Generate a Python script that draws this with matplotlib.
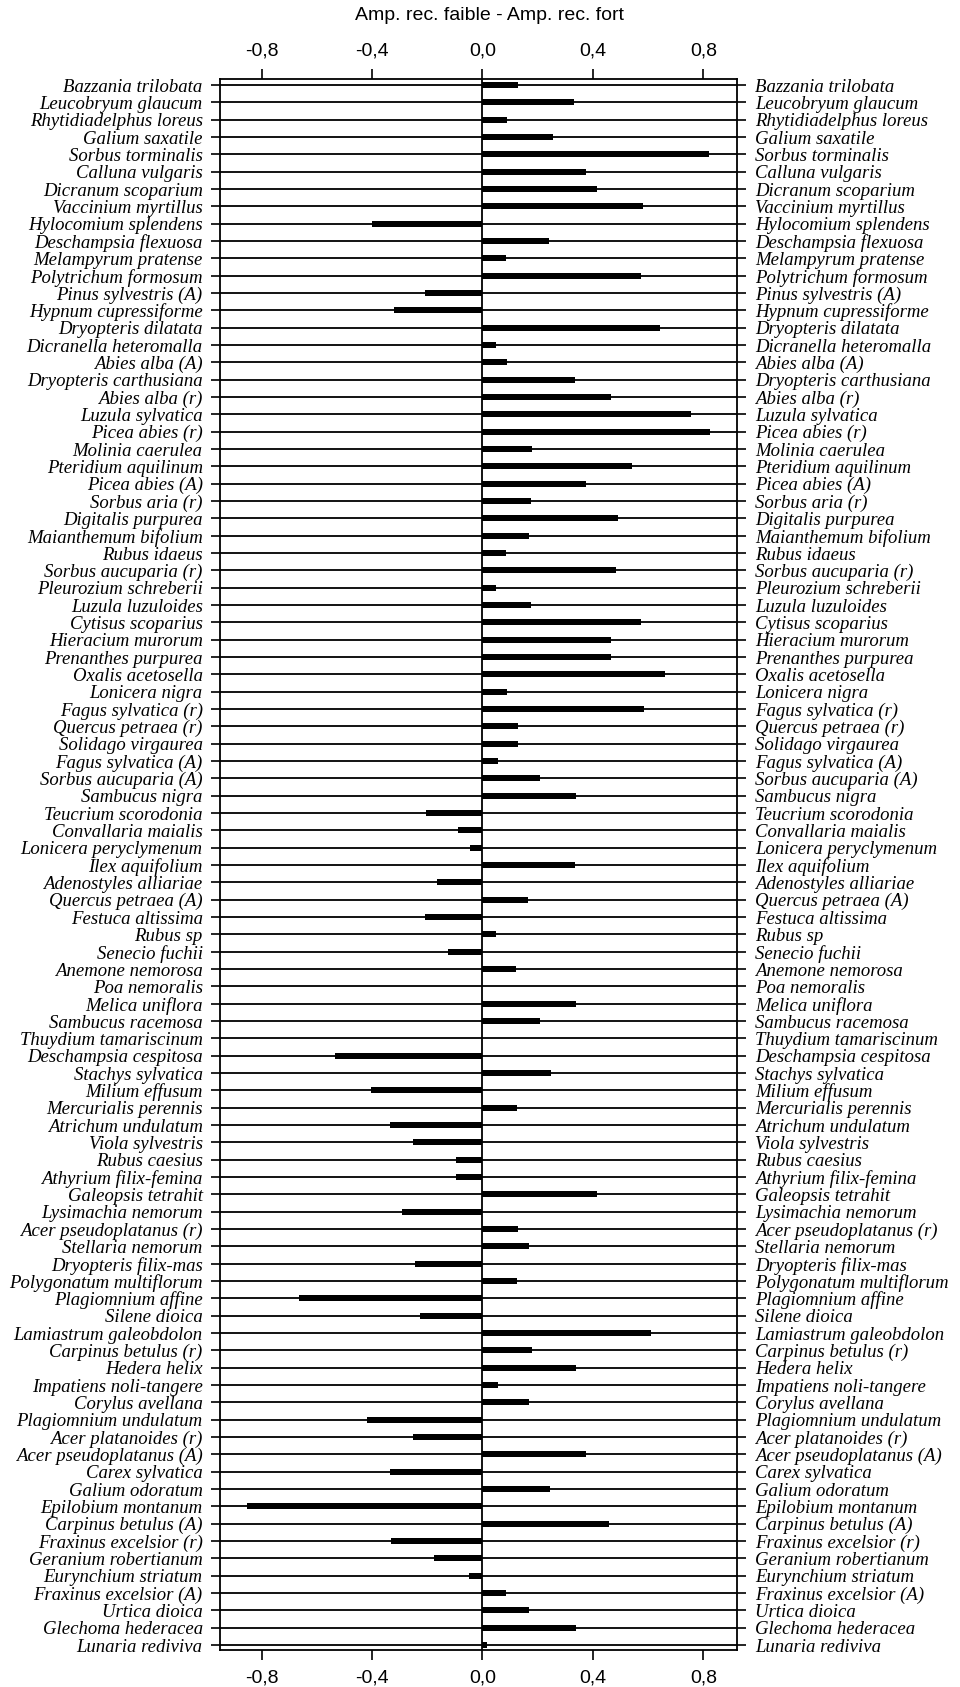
import matplotlib
matplotlib.use("Agg")
import matplotlib.pyplot as plt

# species, top to bottom
species = [
    "Bazzania trilobata", "Leucobryum glaucum", "Rhytidiadelphus loreus",
    "Galium saxatile", "Sorbus torminalis", "Calluna vulgaris",
    "Dicranum scoparium", "Vaccinium myrtillus", "Hylocomium splendens",
    "Deschampsia flexuosa", "Melampyrum pratense", "Polytrichum formosum",
    "Pinus sylvestris (A)", "Hypnum cupressiforme", "Dryopteris dilatata",
    "Dicranella heteromalla", "Abies alba (A)", "Dryopteris carthusiana",
    "Abies alba (r)", "Luzula sylvatica", "Picea abies (r)",
    "Molinia caerulea", "Pteridium aquilinum", "Picea abies (A)",
    "Sorbus aria (r)", "Digitalis purpurea", "Maianthemum bifolium",
    "Rubus idaeus", "Sorbus aucuparia (r)", "Pleurozium schreberii",
    "Luzula luzuloides", "Cytisus scoparius", "Hieracium murorum",
    "Prenanthes purpurea", "Oxalis acetosella", "Lonicera nigra",
    "Fagus sylvatica (r)", "Quercus petraea (r)", "Solidago virgaurea",
    "Fagus sylvatica (A)", "Sorbus aucuparia (A)", "Sambucus nigra",
    "Teucrium scorodonia", "Convallaria maialis", "Lonicera peryclymenum",
    "Ilex aquifolium", "Adenostyles alliariae", "Quercus petraea (A)",
    "Festuca altissima", "Rubus sp", "Senecio fuchii",
    "Anemone nemorosa", "Poa nemoralis", "Melica uniflora",
    "Sambucus racemosa", "Thuydium tamariscinum", "Deschampsia cespitosa",
    "Stachys sylvatica", "Milium effusum", "Mercurialis perennis",
    "Atrichum undulatum", "Viola sylvestris", "Rubus caesius",
    "Athyrium filix-femina", "Galeopsis tetrahit", "Lysimachia nemorum",
    "Acer pseudoplatanus (r)", "Stellaria nemorum", "Dryopteris filix-mas",
    "Polygonatum multiflorum", "Plagiomnium affine", "Silene dioica",
    "Lamiastrum galeobdolon", "Carpinus betulus (r)", "Hedera helix",
    "Impatiens noli-tangere", "Corylus avellana", "Plagiomnium undulatum",
    "Acer platanoides (r)", "Acer pseudoplatanus (A)", "Carex sylvatica",
    "Galium odoratum", "Epilobium montanum", "Carpinus betulus (A)",
    "Fraxinus excelsior (r)", "Geranium robertianum", "Eurynchium striatum",
    "Fraxinus excelsior (A)", "Urtica dioica", "Glechoma hederacea",
    "Lunaria rediviva",
]

# Amp. rec. faible - Amp. rec. fort
diff = [
    0.13, 0.33, 0.09, 0.255, 0.82, 0.375, 0.415, 0.58, -0.40, 0.24,
    0.085, 0.575, -0.21, -0.32, 0.645, 0.05, 0.09, 0.335, 0.465, 0.755,
    0.825, 0.18, 0.54, 0.375, 0.175, 0.49, 0.17, 0.085, 0.485, 0.05,
    0.175, 0.575, 0.465, 0.465, 0.66, 0.09, 0.585, 0.13, 0.13, 0.055,
    0.21, 0.34, -0.205, -0.09, -0.045, 0.335, -0.165, 0.165, -0.21, 0.05,
    -0.125, 0.12, 0.0, 0.34, 0.21, 0.0, -0.535, 0.25, -0.405, 0.125,
    -0.335, -0.25, -0.095, -0.095, 0.415, -0.29, 0.13, 0.17, -0.245, 0.125,
    -0.665, -0.225, 0.61, 0.18, 0.34, 0.055, 0.17, -0.42, -0.25, 0.375,
    -0.335, 0.245, -0.855, 0.46, -0.33, -0.175, -0.05, 0.085, 0.17, 0.34,
    0.015,
]

xticks = [-0.8, -0.4, 0.0, 0.4, 0.8]
xtick_labels = ["-0,8", "-0,4", "0,0", "0,4", "0,8"]

serif = ["Liberation Serif", "DejaVu Serif"]
sans = ["Liberation Sans", "DejaVu Sans"]

fig = plt.figure(figsize=(9.6, 16.87), dpi=100)
ax = fig.add_axes([0.2292, 0.0219, 0.539, 0.9313])

ypos = list(range(len(species)))
ax.barh(ypos, diff, height=0.34, color="black", zorder=3)
ax.axvline(0, color="black", lw=1.3, zorder=2)

ax.set_xlim(-0.951, 0.924)
ax.set_ylim(len(species) - 1 + 0.29, -0.35)

ax.set_yticks(ypos)
ax.set_yticklabels(species, fontsize=13.5, style="italic", family=serif)
ax.yaxis.set_ticks_position("both")
ax.tick_params(axis="y", which="both", direction="out", length=6.5,
               width=1.2, pad=6, labelleft=True, labelright=True)
ax.grid(axis="y", color="black", lw=1.3, zorder=1)

ax.set_xticks(xticks)
ax.set_xticklabels(xtick_labels, fontsize=14, family=sans)
ax.xaxis.set_ticks_position("both")
ax.tick_params(axis="x", which="both", direction="out", length=7,
               width=1.2, pad=7, labeltop=True, labelbottom=True)

for sp in ax.spines.values():
    sp.set_linewidth(1.3)

fig.text(0.51, 0.991, "Amp. rec. faible - Amp. rec. fort", ha="center",
         va="center", fontsize=14, family=sans)

fig.savefig("out.png", dpi=100, facecolor="white")
